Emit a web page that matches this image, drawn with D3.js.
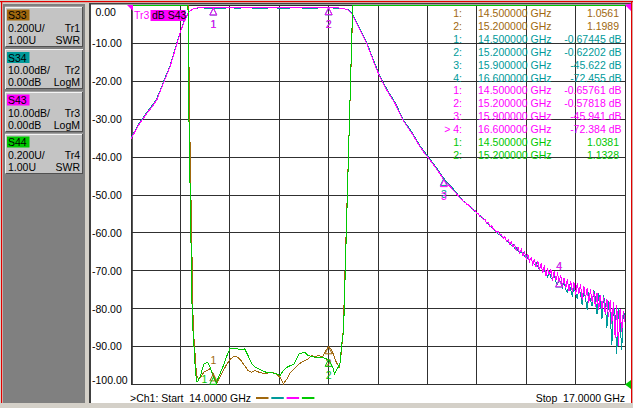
<!DOCTYPE html>
<html><head><meta charset="utf-8">
<script src="https://cdn.jsdelivr.net/npm/d3@7"></script>
<style>
html,body{margin:0;padding:0;background:#d4d0c8;overflow:hidden}
svg{display:block;font-family:"Liberation Sans",Arial,sans-serif;font-size:10.5px}
text{white-space:pre}
</style></head><body>
<svg id="c" width="633" height="408"></svg>
<script>
// ---------------- DATA ----------------
const startGHz = 14.0, stopGHz = 17.0;
const xGrid = [14.0,14.3,14.6,14.9,15.2,15.5,15.8,16.1,16.4,16.7,17.0];
const yGridDb = [0,-10,-20,-30,-40,-50,-60,-70,-80,-90,-100];
const yTickLabels = ["0.00","-10.00","-20.00","-30.00","-40.00","-50.00","-60.00","-70.00","-80.00","-90.00","-100.00"];

const traceParams = ["S33","S34","S43","S44"];
const traceNames = ["Tr1","Tr2","Tr3","Tr4"];
const traceScales = ["0.200U/","10.00dB/","10.00dB/","0.200U/"];
const traceRefs = ["1.00U","0.00dB","0.00dB","1.00U"];
const traceFormats = ["SWR","LogM","LogM","SWR"];
const traceColors = ["#a0680e","#009a9a","#ff00ff","#00c800"];

// S43 (dB) smooth part [GHz, dB]
const s43Main = [[14.000,-35.3],[14.020,-33.6],[14.045,-31.6],[14.070,-30.1],[14.095,-28.5],[14.125,-26.9],[14.156,-25.0],[14.176,-22.8],[14.196,-20.6],[14.216,-18.4],[14.237,-16.2],[14.252,-14.0],[14.267,-11.8],[14.283,-9.5],[14.298,-7.3],[14.313,-5.4],[14.328,-3.8],[14.346,-2.1],[14.360,-1.4],[14.377,-0.9],[14.400,-0.65],[14.420,-0.55],[14.460,-0.6],[14.500,-0.66],[14.550,-0.62],[14.600,-0.55],[14.650,-0.6],[14.700,-0.5],[14.750,-0.58],[14.800,-0.62],[14.850,-0.55],[14.900,-0.52],[14.950,-0.6],[15.000,-0.5],[15.050,-0.55],[15.100,-0.62],[15.150,-0.55],[15.200,-0.58],[15.250,-0.62],[15.289,-0.74],[15.318,-1.19],[15.340,-2.06],[15.355,-3.4],[15.371,-4.7],[15.386,-6.0],[15.401,-7.34],[15.416,-8.7],[15.431,-9.99],[15.446,-11.7],[15.462,-13.5],[15.482,-15.8],[15.502,-17.9],[15.527,-20.2],[15.553,-22.3],[15.578,-24.1],[15.603,-25.8],[15.628,-28.1],[15.652,-30.3],[15.678,-32.0],[15.705,-33.7],[15.730,-35.5],[15.755,-37.3],[15.785,-39.1],[15.816,-40.8],[15.858,-43.3],[15.900,-45.94],[15.940,-47.9],[15.970,-49.3],[15.990,-50.4]];
// S34 (dB) smooth part [GHz, dB]
const s34Main = [[14.000,-35.0],[14.020,-33.4],[14.045,-31.3],[14.070,-29.8],[14.095,-28.2],[14.125,-26.6],[14.156,-24.6],[14.176,-22.5],[14.196,-20.3],[14.216,-18.1],[14.237,-15.9],[14.252,-13.7],[14.267,-11.5],[14.283,-9.3],[14.298,-7.1],[14.313,-5.2],[14.328,-3.6],[14.346,-2.0],[14.360,-1.35],[14.377,-0.95],[14.400,-0.7],[14.420,-0.62],[14.460,-0.7],[14.500,-0.674],[14.550,-0.75],[14.600,-0.6],[14.650,-0.72],[14.700,-0.55],[14.750,-0.7],[14.800,-0.75],[14.850,-0.6],[14.900,-0.68],[14.950,-0.72],[15.000,-0.55],[15.050,-0.7],[15.100,-0.75],[15.150,-0.62],[15.200,-0.622],[15.250,-0.7],[15.289,-0.8],[15.318,-1.1],[15.340,-1.95],[15.355,-3.2],[15.371,-4.5],[15.386,-5.8],[15.401,-7.1],[15.416,-8.5],[15.431,-9.7],[15.446,-11.4],[15.462,-13.2],[15.482,-15.5],[15.502,-17.6],[15.527,-19.9],[15.553,-22.0],[15.578,-23.8],[15.603,-25.5],[15.628,-27.8],[15.652,-30.0],[15.678,-31.7],[15.705,-33.4],[15.730,-35.2],[15.755,-37.0],[15.785,-38.8],[15.816,-40.5],[15.858,-43.0],[15.900,-45.62],[15.940,-47.6],[15.970,-49.0],[15.990,-50.2]];

// noisy stop-band tail, sampled every 10 MHz from 16.00 GHz
const tailStartGHz = 16.0, tailStepGHz = 0.01;
const s43Tail = [-50.9,-51.2,-51.8,-51.9,-52.5,-52.6,-53.2,-53.4,-54.1,-54.1,
  -54.9,-55.0,-55.8,-55.7,-56.6,-56.5,-57.4,-57.2,-58.5,-58.1,
  -59.0,-59.1,-59.9,-59.6,-60.5,-60.4,-61.5,-60.9,-62.2,-61.8,
  -63.0,-62.4,-63.6,-63.2,-64.7,-63.8,-65.3,-64.3,-66.0,-65.0,
  -66.9,-65.6,-67.6,-66.5,-68.4,-66.9,-69.0,-67.4,-69.8,-68.1,
  -70.6,-68.6,-71.4,-69.4,-71.2,-69.6,-72.6,-70.2,-72.5,-70.8,
  -72.4,-71.3,-74.0,-71.9,-74.6,-72.2,-75.3,-72.7,-75.7,-73.0,
  -76.4,-73.3,-76.1,-73.6,-77.6,-74.0,-77.2,-74.6,-78.6,-74.9,
  -78.1,-75.4,-79.6,-76.0,-80.3,-76.3,-80.0,-76.9,-81.4,-77.4,
  -82.3,-77.8,-83.9,-78.3,-87.6,-79.0,-89.8,-80.1,-86.2,-80.6,
  -83.4];
const s34Tail = [-50.7,-51.3,-51.7,-52.0,-52.4,-52.8,-53.1,-53.6,-53.9,-54.4,
  -54.6,-55.2,-55.4,-56.0,-56.3,-56.5,-57.4,-57.6,-58.1,-58.6,
  -58.9,-59.4,-59.6,-60.3,-60.5,-60.7,-61.5,-61.3,-62.1,-62.4,
  -62.6,-63.3,-63.1,-64.1,-64.0,-64.6,-65.0,-65.3,-65.1,-66.2,
  -66.0,-66.8,-67.1,-67.0,-67.9,-68.4,-67.8,-68.9,-69.5,-68.6,
  -70.3,-70.0,-70.6,-71.6,-70.2,-71.9,-72.3,-70.9,-72.9,-73.6,
  -72.5,-73.0,-74.4,-72.6,-74.9,-75.6,-73.4,-75.0,-76.8,-73.9,
  -75.9,-77.3,-74.6,-76.2,-79.0,-75.0,-77.1,-80.4,-75.7,-77.6,
  -79.4,-75.0,-77.2,-81.3,-75.9,-78.0,-82.6,-76.5,-78.9,-85.0,
  -78.1,-80.9,-89.7,-78.9,-82.0,-92.0,-79.8,-83.4,-91.0,-80.6,
  -82.2];

// S33 (SWR) [GHz, SWR]  (values above 3 are pinned to the top edge)
const s33Swr = [[14.000,8],[14.340,8],[14.348,3.6],[14.356,2.4],[14.378,1.30],[14.398,1.05],[14.410,1.03],[14.422,1.039],[14.443,1.065],[14.480,1.083],[14.500,1.056],[14.519,1.004],[14.540,1.039],[14.561,1.074],[14.583,1.109],[14.604,1.135],[14.626,1.149],[14.647,1.144],[14.668,1.126],[14.690,1.100],[14.711,1.074],[14.733,1.065],[14.754,1.074],[14.776,1.065],[14.797,1.060],[14.819,1.056],[14.840,1.065],[14.872,1.060],[14.904,1.039],[14.926,1.004],[14.947,1.030],[14.969,1.065],[14.990,1.083],[15.012,1.100],[15.033,1.117],[15.054,1.126],[15.076,1.135],[15.097,1.153],[15.119,1.147],[15.140,1.153],[15.162,1.144],[15.183,1.179],[15.200,1.199],[15.215,1.188],[15.236,1.144],[15.247,1.117],[15.264,1.091],[15.272,1.126],[15.289,1.284],[15.347,3.6],[15.360,8],[17.000,8]];
// S44 (SWR) [GHz, SWR]
const s44Swr = [[14.000,8],[14.340,8],[14.346,3.6],[14.352,2.4],[14.372,1.35],[14.392,1.06],[14.400,1.015],[14.410,1.02],[14.422,1.047],[14.443,1.109],[14.465,1.117],[14.480,1.091],[14.500,1.038],[14.519,1.012],[14.540,1.056],[14.561,1.100],[14.583,1.153],[14.600,1.188],[14.626,1.193],[14.668,1.183],[14.690,1.188],[14.711,1.153],[14.733,1.109],[14.754,1.091],[14.776,1.083],[14.797,1.074],[14.819,1.065],[14.840,1.065],[14.883,1.056],[14.904,1.047],[14.926,1.074],[14.947,1.091],[14.969,1.100],[14.990,1.109],[15.022,1.162],[15.054,1.170],[15.076,1.153],[15.119,1.144],[15.162,1.144],[15.183,1.135],[15.200,1.133],[15.226,1.091],[15.236,1.056],[15.247,1.074],[15.269,1.109],[15.280,1.214],[15.291,1.284],[15.346,3.6],[15.360,8],[17.000,8]];

// markers
const markerFreqs = [14.5, 15.2, 15.9, 16.6];
const s33Markers = [1.0561, 1.1989];
const s34Markers = [-0.67445, -0.62202, -45.622, -72.455];
const s43Markers = [-0.65761, -0.57818, -45.941, -72.384];
const s44Markers = [1.0381, 1.1328];
const activeMarker = 4;

// ---------------- DRAW ----------------
const svg = d3.select("#c");
const x = d3.scaleLinear().domain([startGHz, stopGHz]).range([131, 625]);
const yDb = d3.scaleLinear().domain([-100, 0]).range([384.5, 5.5]).clamp(true);
const ySwr = d3.scaleLinear().domain([1, 3]).range([384.5, 5.5]).clamp(true);

// window chrome
svg.append("rect").attr("width",633).attr("height",408).attr("fill","#d4d0c8");
svg.append("rect").attr("x",3).attr("y",4).attr("width",82).attr("height",399).attr("fill","#808080");
svg.append("rect").attr("x",91).attr("y",4).attr("width",540).attr("height",399).attr("fill","#ffffff");
svg.append("rect").attr("x",89).attr("y",3).attr("width",2).attr("height",400).attr("fill","#404040");
svg.append("rect").attr("x",89).attr("y",3).attr("width",542).attr("height",1.5).attr("fill","#404040");
svg.append("rect").attr("x",0).attr("y",1).attr("width",633).attr("height",1.2).attr("fill","#e00000");
svg.append("rect").attr("x",1).attr("y",1).attr("width",1.2).attr("height",402).attr("fill","#e00000");
svg.append("rect").attr("x",631).attr("y",1).attr("width",1.2).attr("height",402).attr("fill","#e00000");

// left trace panel
const boxTop = [6.5, 49, 91.5, 133.5];
traceParams.forEach((p, i) => {
  const g = svg.append("g").attr("transform", `translate(5,${boxTop[i]})`);
  g.append("rect").attr("width",78).attr("height",40).attr("fill","#c4c4c4");
  g.append("path").attr("d","M0.5,39.5V0.5H77.5").attr("stroke","#f4f4f4").attr("fill","none").attr("shape-rendering","crispEdges");
  g.append("path").attr("d","M0.5,39.5H77.5V0.5").attr("stroke","#505050").attr("fill","none").attr("shape-rendering","crispEdges");
  g.append("rect").attr("x",2).attr("y",3).attr("width",22.5).attr("height",11).attr("fill",traceColors[i]);
  g.append("text").attr("x",3).attr("y",12.5).text(p);
  g.append("text").attr("x",3).attr("y",25).text(traceScales[i]);
  g.append("text").attr("x",75).attr("y",25).attr("text-anchor","end").text(traceNames[i]);
  g.append("text").attr("x",3).attr("y",37).text(traceRefs[i]);
  g.append("text").attr("x",75).attr("y",37).attr("text-anchor","end").text(traceFormats[i]);
});

// grid
const grid = svg.append("g").attr("stroke","#303030").attr("shape-rendering","crispEdges");
xGrid.forEach(f => grid.append("line").attr("x1",x(f)).attr("x2",x(f)).attr("y1",5).attr("y2",385));
yGridDb.forEach(v => grid.append("line").attr("x1",131).attr("x2",625).attr("y1",yDb(v)).attr("y2",yDb(v)));
svg.append("rect").attr("x",131).attr("y",5).attr("width",1.8).attr("height",380).attr("fill","#303030");

// y labels
yGridDb.forEach((v, i) => {
  const cy = Math.max(12.5, Math.min(380, yDb(v)));
  svg.append("text").attr("x", v === 0 ? 95.5 : 92).attr("y", cy + 3.8).text(yTickLabels[i]);
});

// traces
const lineDb = d3.line().x(d => x(d[0])).y(d => yDb(d[1]));
const lineSwr = d3.line().x(d => x(d[0])).y(d => ySwr(d[1]));
const tailPts = arr => arr.map((v, i) => [tailStartGHz + i * tailStepGHz, v]);
const traces = [
  {d: lineSwr(s33Swr), c: traceColors[0]},
  {d: lineDb(s34Main.concat(tailPts(s34Tail))), c: traceColors[1]},
  {d: lineDb(s43Main.concat(tailPts(s43Tail))), c: traceColors[2]},
  {d: lineSwr(s44Swr), c: traceColors[3]}
];
traces.forEach(t => svg.append("path").attr("d", t.d).attr("fill","none").attr("stroke", t.c)
  .attr("stroke-width",1).attr("shape-rendering","crispEdges"));

// markers on traces
function drawMarkers(vals, scale, color, aboveDx) {
  vals.forEach((v, i) => {
    const mx = x(markerFreqs[i]), my = scale(v);
    svg.append("path").attr("d",`M${mx},${my}L${mx-3.5},${my+7}L${mx+3.5},${my+7}Z`)
      .attr("fill","none").attr("stroke",color).attr("stroke-width",1);
    const below = (i + 1 !== activeMarker) && (my + 20 < 384);
    svg.append("text").attr("x", below ? mx : mx + aboveDx).attr("y", below ? my + 20 : (aboveDx ? my + 6 : my - 10))
      .attr("text-anchor","middle").attr("fill",color).text(i + 1);
  });
}
drawMarkers(s33Markers, ySwr, traceColors[0], 0);
drawMarkers(s34Markers, yDb, traceColors[1], 0);
drawMarkers(s43Markers, yDb, traceColors[2], 0);
drawMarkers(s44Markers, ySwr, traceColors[3], -9);

// reference indicators
svg.append("path").attr("d","M127,5H133V11Z").attr("fill","#ff00ff");
svg.append("path").attr("d","M625,5L631,3.5V11Z").attr("fill","#ff00ff");
svg.append("path").attr("d","M625,384.5L631,380V389Z").attr("fill","#00c800");

// active trace title
svg.append("text").attr("x",134).attr("y",19).attr("fill","#ff00ff").text("Tr3");
svg.append("rect").attr("x",150.5).attr("y",10).attr("width",35).attr("height",11).attr("fill","#ff00ff");
svg.append("text").attr("x",152).attr("y",19).attr("fill","#000").text("dB S43");

// marker table
const fmt = d3.format(".5r");
const rows = [];
s33Markers.forEach((v,i)=>rows.push({n:i+1, f:markerFreqs[i], v:fmt(v), c:traceColors[0], db:false, act:false}));
s34Markers.forEach((v,i)=>rows.push({n:i+1, f:markerFreqs[i], v:fmt(v)+" dB", c:traceColors[1], db:true, act:false}));
s43Markers.forEach((v,i)=>rows.push({n:i+1, f:markerFreqs[i], v:fmt(v)+" dB", c:traceColors[2], db:true, act:i+1===activeMarker}));
s44Markers.forEach((v,i)=>rows.push({n:i+1, f:markerFreqs[i], v:fmt(v), c:traceColors[3], db:false, act:false}));
rows.forEach((r, i) => {
  const ty = 17 + i * 12.9;
  svg.append("text").attr("x",462).attr("y",ty).attr("text-anchor","end").attr("fill",r.c)
    .text((r.act ? "> " : "") + r.n + ":");
  svg.append("text").attr("x",478).attr("y",ty).attr("fill",r.c).text(d3.format(".6f")(r.f) + " GHz");
  svg.append("text").attr("x", r.db ? 621.5 : 619).attr("y",ty).attr("text-anchor","end").attr("fill",r.c)
    .text(r.v.replace("\u2212","-"));
});

// bottom status line
svg.append("text").attr("x",130).attr("y",401.5).text(">Ch1: Start  " + d3.format(".4f")(startGHz) + " GHz");
traceColors.forEach((c, i) => svg.append("line").attr("x1",256 + i*15.3).attr("x2",268.5 + i*15.3)
  .attr("y1",398).attr("y2",398).attr("stroke",c).attr("stroke-width",2));
svg.append("text").attr("x",625).attr("y",401.5).attr("text-anchor","end").text("Stop  " + d3.format(".4f")(stopGHz) + " GHz");
</script>
</body></html>
